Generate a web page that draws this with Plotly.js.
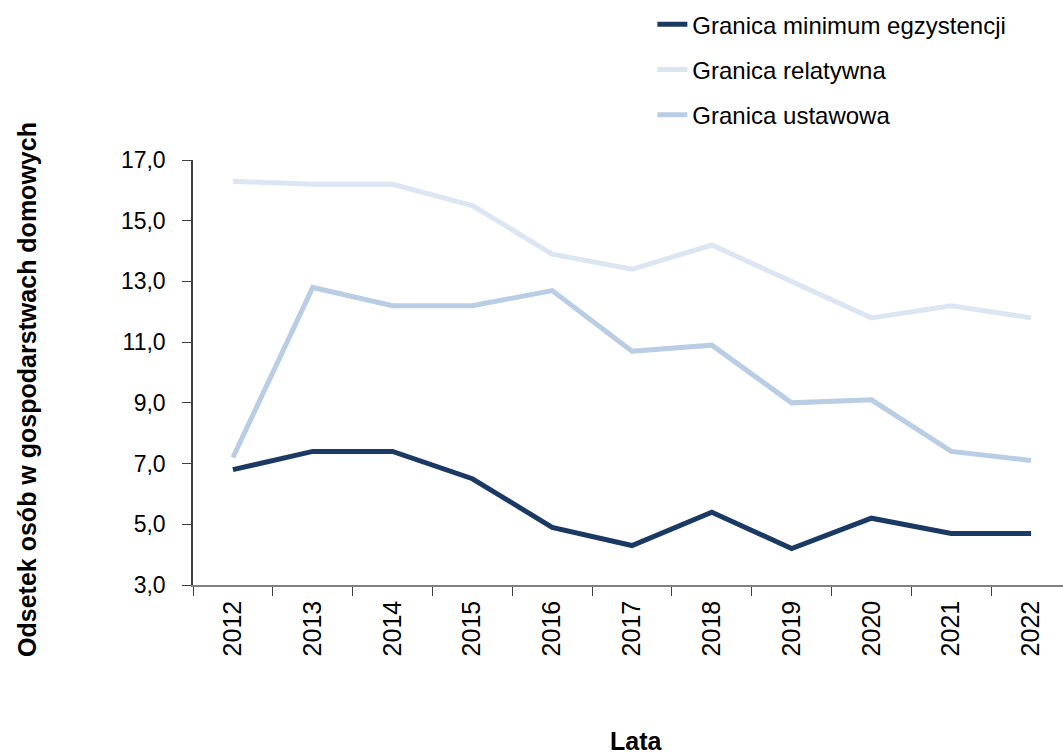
<!DOCTYPE html>
<html>
<head>
<meta charset="utf-8">
<script src="https://cdn.plot.ly/plotly-3.0.1.min.js"></script>
<style>
  body { margin: 0; background: #fff; }
  #chart { width: 1063px; height: 756px; }
</style>
</head>
<body>
<div id="chart"></div>
<script>
// years on the x axis
const years = ["2012", "2013", "2014", "2015", "2016", "2017", "2018", "2019", "2020", "2021", "2022"];

// share of people in households, per poverty line
const minimumEgzystencji = [6.8, 7.4, 7.4, 6.5, 4.9, 4.3, 5.4, 4.2, 5.2, 4.7, 4.7];
const relatywna = [16.3, 16.2, 16.2, 15.5, 13.9, 13.4, 14.2, 13.0, 11.8, 12.2, 11.8];
const ustawowa = [7.2, 12.8, 12.2, 12.2, 12.7, 10.7, 10.9, 9.0, 9.1, 7.4, 7.1];

const yTicks = [3, 5, 7, 9, 11, 13, 15, 17];

const sans = 'Liberation Sans, Arial, sans-serif';

function makeLine(values, name, color) {
    return {
        x: years,
        y: values,
        type: 'scatter',
        mode: 'lines',
        name: name,
        legendgroup: name,
        line: {color: color, width: 5}
    };
}

var data = [
    makeLine(minimumEgzystencji, 'Granica minimum egzystencji', '#1b3a63'),
    makeLine(relatywna, 'Granica relatywna', '#dce6f2'),
    makeLine(ustawowa, 'Granica ustawowa', '#b9cde5')
];

var layout = {
    width: 1063,
    height: 756,
    margin: {l: 193, r: 0, t: 160, b: 171},
    paper_bgcolor: '#ffffff',
    plot_bgcolor: '#ffffff',
    separators: ',.',
    font: {family: sans, size: 23, color: '#000'},
    showlegend: true,
    legend: {
        x: 0.528,
        y: 0.997,
        xref: 'paper',
        yref: 'container',
        xanchor: 'left',
        yanchor: 'top',
        font: {family: sans, size: 24},
        tracegroupgap: 11,
        bgcolor: 'rgba(0,0,0,0)'
    },
    xaxis: {
        type: 'category',
        range: [-0.5, 10.4],
        tickson: 'boundaries',
        ticks: 'outside',
        ticklen: 9,
        tickcolor: '#404040',
        tickangle: -90,
        tickfont: {size: 25},
        ticklabelstandoff: 4,
        showline: true,
        linecolor: '#808080',
        linewidth: 1.5,
        showgrid: false,
        zeroline: false
    },
    yaxis: {
        range: [3, 17],
        tickvals: yTicks,
        tickformat: '.1f',
        ticks: 'outside',
        ticklen: 9,
        tickcolor: '#404040',
        tickfont: {size: 23},
        ticklabelstandoff: 12,
        showline: true,
        linecolor: '#404040',
        linewidth: 1.5,
        showgrid: false,
        zeroline: false
    },
    annotations: [
        {
            text: '<b>Odsetek osób w gospodarstwach domowych</b>',
            xref: 'paper', yref: 'paper',
            x: -0.191, y: 0.461,
            xanchor: 'center', yanchor: 'middle',
            textangle: -90,
            showarrow: false,
            font: {family: sans, size: 25}
        },
        {
            text: '<b>Lata</b>',
            xref: 'paper', yref: 'paper',
            x: 0.510, y: -0.366,
            xanchor: 'center', yanchor: 'middle',
            showarrow: false,
            font: {family: sans, size: 25}
        }
    ]
};

Plotly.newPlot('chart', data, layout, {displayModeBar: false});
</script>
</body>
</html>
